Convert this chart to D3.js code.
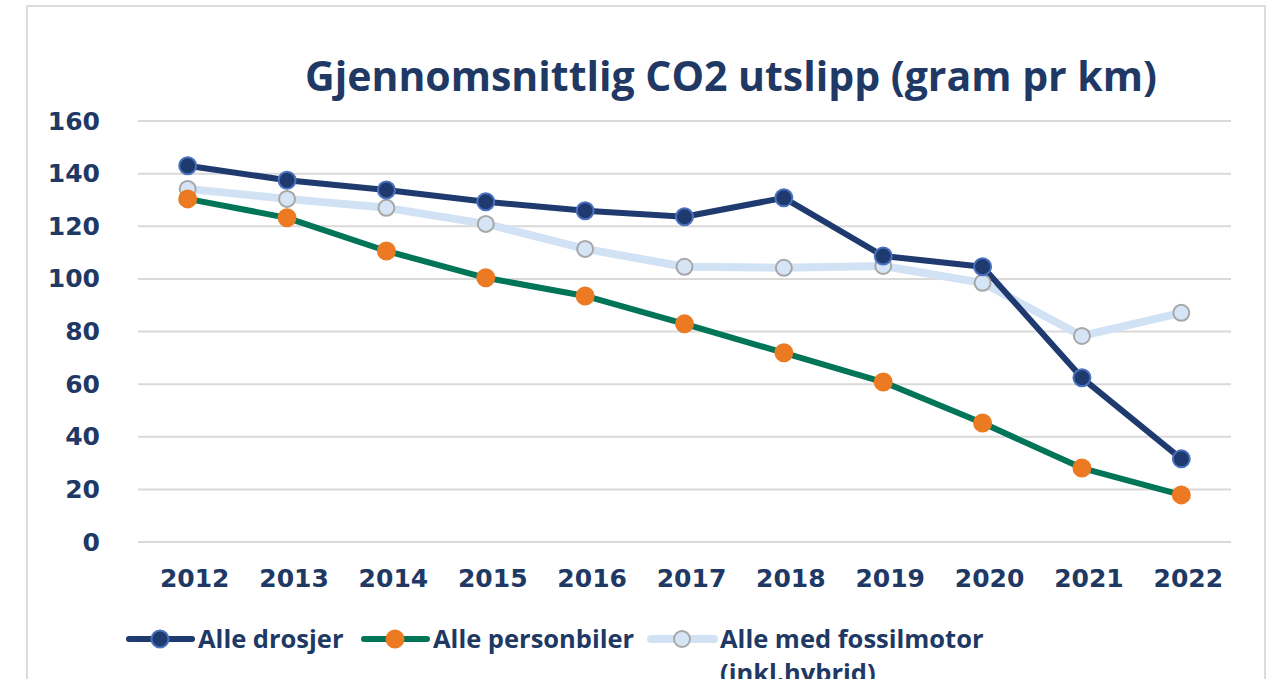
<!DOCTYPE html>
<html>
<head>
<meta charset="utf-8">
<script src="https://cdn.jsdelivr.net/npm/d3@7"></script>
<style>
  body { margin: 0; background: #fff; }
  text { font-family: "Open Sans", "DejaVu Sans", sans-serif; font-weight: 700; fill: #203864; }
  .tick text { font-family: "DejaVu Sans", sans-serif; }
</style>
</head>
<body>
<div id="chart"></div>
<script>
// data
var years = ["2012", "2013", "2014", "2015", "2016", "2017", "2018", "2019", "2020", "2021", "2022"];
var drosjer = [143, 137.5, 133.8, 129.3, 125.9, 123.6, 130.8, 108.7, 104.6, 62.4, 31.6];
var personbiler = [130.4, 123.2, 110.6, 100.4, 93.5, 82.9, 71.9, 60.8, 45.2, 28.1, 17.9];
var fossil = [134.2, 130.4, 127, 120.9, 111.4, 104.6, 104.2, 104.9, 98.5, 78.3, 87.1];
var yTicks = [0, 20, 40, 60, 80, 100, 120, 140, 160];

var series = [
  { name: "Alle drosjer", values: drosjer, line: "#1f3a6e", width: 6, fill: "#1f3a6e", stroke: "#4a72c0", r: 8.5 },
  { name: "Alle personbiler", values: personbiler, line: "#007558", width: 6, fill: "#ec7a22", stroke: "#ec7a22", r: 8.5 },
  { name: "Alle med fossilmotor", name2: "(inkl.hybrid)", values: fossil, line: "#d2e2f5", width: 8, fill: "#d6e5f6", stroke: "#a7a7a7", r: 8 }
];

var W = 1278, H = 679;
var margin = { top: 121, right: 47, bottom: 137, left: 138 };
var width = W - margin.left - margin.right,
    height = H - margin.top - margin.bottom;

var root = d3.select("#chart").append("svg")
    .attr("width", W).attr("height", H);

// outer frame
root.append("rect")
    .attr("x", 27).attr("y", 6)
    .attr("width", 1238).attr("height", 700)
    .attr("fill", "none").attr("stroke", "#dcdcdc").attr("stroke-width", 2);

root.append("text")
    .attr("x", 731).attr("y", 91)
    .attr("text-anchor", "middle")
    .style("font-size", "41px")
    .text("Gjennomsnittlig CO2 utslipp (gram pr km)");

var svg = root.append("g")
    .attr("transform", "translate(" + margin.left + "," + margin.top + ")");

var x = d3.scaleBand().domain(years).range([0, width]);
var y = d3.scaleLinear().domain([0, 160]).range([height, 0]);

// gridlines
svg.append("g").selectAll("line")
    .data(yTicks).enter().append("line")
    .attr("x1", 0).attr("x2", width)
    .attr("y1", d => y(d)).attr("y2", d => y(d))
    .attr("stroke", "#d9d9d9").attr("stroke-width", 2);

// y labels
var yAxis = d3.axisLeft(y).tickValues(yTicks).tickSize(0).tickPadding(38);
svg.append("g").call(yAxis)
    .call(g => g.select(".domain").remove())
    .selectAll("text")
    .style("font-size", "25px")
    .attr("fill", "#203864");

// x labels (sit a little right of the points, like the original)
var xAxis = d3.axisBottom(x).tickSize(0).tickPadding(27);
svg.append("g")
    .attr("transform", "translate(0," + height + ")")
    .call(xAxis)
    .call(g => g.select(".domain").remove())
    .selectAll("text")
    .attr("dx", 7)
    .style("font-size", "25px")
    .attr("fill", "#203864");

var cx = function (i) { return x(years[i]) + x.bandwidth() / 2; };

// draw fossil first, then personbiler, then drosjer on top
var order = [2, 1, 0];
order.forEach(function (k) {
  var s = series[k];
  svg.append("path")
      .datum(s.values)
      .attr("fill", "none")
      .attr("stroke", s.line)
      .attr("stroke-width", s.width)
      .attr("stroke-linejoin", "round")
      .attr("d", d3.line().x((d, i) => cx(i)).y(d => y(d)));
});
order.forEach(function (k) {
  var s = series[k];
  svg.append("g").selectAll("circle")
      .data(s.values).enter().append("circle")
      .attr("cx", (d, i) => cx(i))
      .attr("cy", d => y(d))
      .attr("r", s.r)
      .attr("fill", s.fill)
      .attr("stroke", s.stroke)
      .attr("stroke-width", 2);
});

// legend
var legendX = [129, 364, 651];
var legend = root.append("g").attr("transform", "translate(0,639)");
series.forEach(function (s, i) {
  var g = legend.append("g").attr("transform", "translate(" + legendX[i] + ",0)");
  g.append("line")
      .attr("x1", 0).attr("x2", 63)
      .attr("stroke", s.line).attr("stroke-width", s.width)
      .attr("stroke-linecap", "round");
  g.append("circle")
      .attr("cx", 31).attr("r", s.r)
      .attr("fill", s.fill).attr("stroke", s.stroke).attr("stroke-width", 2);
  g.append("text")
      .attr("x", 69).attr("y", 9)
      .style("font-size", "25.5px")
      .text(s.name);
  if (s.name2) {
    g.append("text")
        .attr("x", 69).attr("y", 43)
        .style("font-size", "25.5px")
        .text(s.name2);
  }
});
</script>
</body>
</html>
